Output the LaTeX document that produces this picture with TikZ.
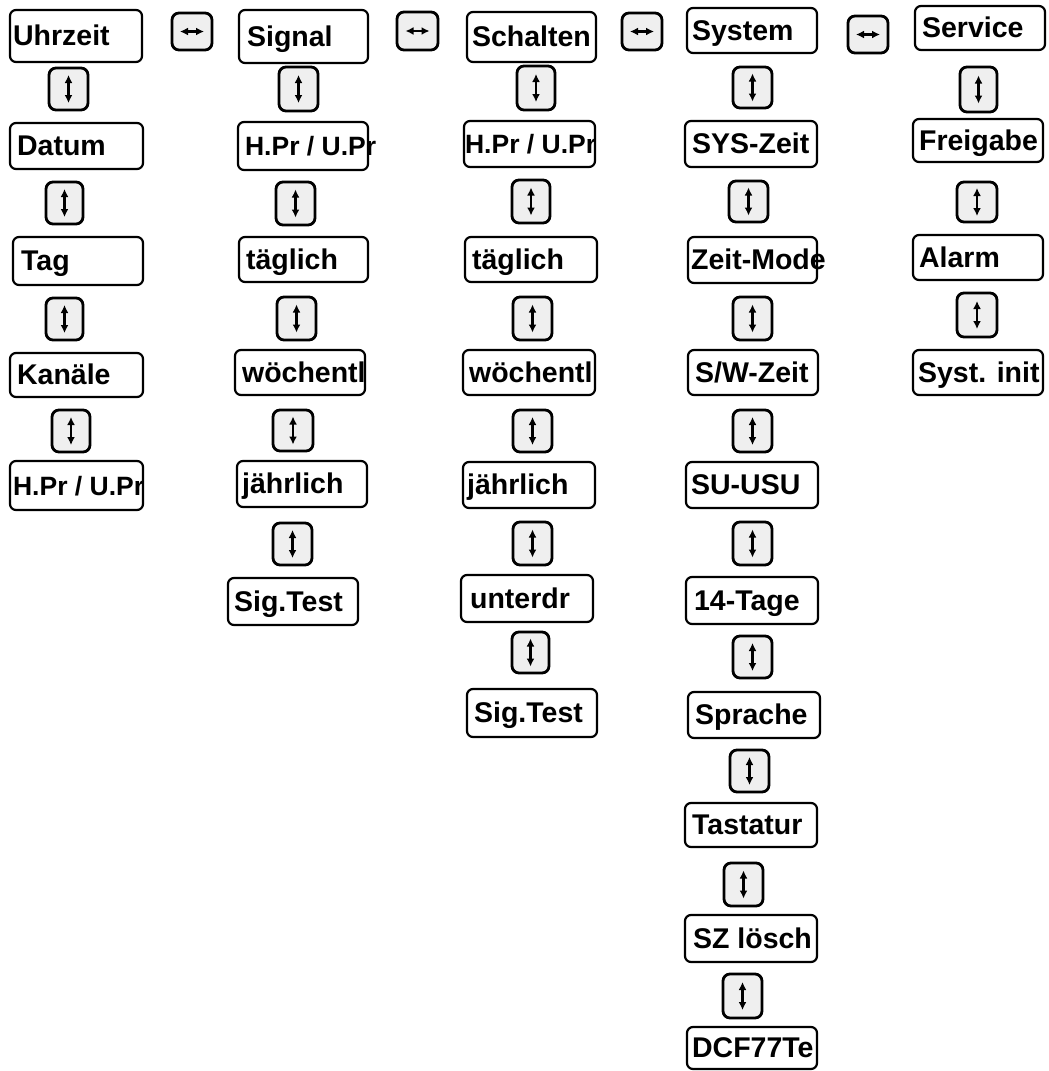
\documentclass[tikz,border=0pt]{standalone}
\usepackage{fontspec}
\setmainfont{Liberation Sans}
\usetikzlibrary{calc,arrows.meta}
\definecolor{keygray}{HTML}{EFEFEF}
\tikzset{
  boxst/.style={draw=black, line width=2.2pt, fill=white, rounded corners=6pt, inner sep=0pt},
  keyst/.style={draw=black, line width=2.8pt, fill=keygray, rounded corners=7pt, inner sep=0pt},
  lbl/.style={inner sep=0pt, anchor=base west, font=\fontsize{28.5}{30}\selectfont\bfseries},
  narrowlbl/.style={font=\fontsize{26.5}{30}\selectfont\bfseries},
  keyarrow/.style={line width=2.8pt, {Latex[length=8pt,width=8pt]}-{Latex[length=8pt,width=8pt]}},
}
% name x1 y1 x2 y2 inset text [extra label style]
\newcommand\mybox[8][]{%
  \node[boxst, minimum width={(#5-#3)*1pt}, minimum height={(#6-#4)*1pt}] (#2) at ({(#3+#5)/2},{(#4+#6)/2}) {};
  \node[lbl,#1] (#2t) at ($(#2.west)+(#7,9.5)$) {#8};
}
% name x1 y1 x2 y2
\newcommand\mykv[5]{%
  \node[keyst, minimum width={(#4-#2)*1pt}, minimum height={(#5-#3)*1pt}] (#1) at ({(#2+#4)/2},{(#3+#5)/2}) {};
  \draw[keyarrow] ($(#1.center)+(0,-14)$) -- ($(#1.center)+(0,14)$);
}
\newcommand\mykh[5]{%
  \node[keyst, minimum width={(#4-#2)*1pt}, minimum height={(#5-#3)*1pt}] (#1) at ({(#2+#4)/2},{(#3+#5)/2}) {};
  \draw[keyarrow] ($(#1.center)+(-12,0)$) -- ($(#1.center)+(12,0)$);
}
\begin{document}
\begin{tikzpicture}[x=1pt,y=-1pt]
\useasboundingbox (0,0) rectangle (1049,1071);
% top row horizontal keys
\mykh{h1}{172}{13}{212}{50}
\mykh{h2}{397}{12}{438}{50}
\mykh{h3}{622}{13}{662}{50}
\mykh{h4}{848}{16}{888}{53}
% column 1
\mybox{a0}{10}{10}{142}{62}{4}{Uhrzeit}
\mykv{ka1}{49}{68}{88}{110}
\mybox{a1}{10}{123}{143}{169}{8}{Datum}
\mykv{ka2}{46}{182}{83}{224}
\mybox{a2}{13}{237}{143}{285}{9}{Tag}
\mykv{ka3}{46}{298}{83}{340}
\mybox{a3}{10}{353}{143}{397}{8}{Kanäle}
\mykv{ka4}{52}{410}{90}{452}
\mybox[narrowlbl]{a4}{10}{461}{143}{510}{4}{H.Pr / U.Pr}
% column 2
\mybox{b0}{239}{10}{368}{63}{9}{Signal}
\mykv{kb1}{279}{67}{318}{111}
\mybox[narrowlbl]{b1}{238}{122}{368}{170}{8}{H.Pr / U.Pr}
\mykv{kb2}{276}{182}{315}{225}
\mybox{b2}{239}{237}{368}{282}{8}{täglich}
\mykv{kb3}{277}{297}{316}{340}
\mybox{b3}{235}{350}{365}{395}{8}{wöchentl}
\mykv{kb4}{273}{410}{313}{451}
\mybox{b4}{237}{461}{367}{507}{6}{jährlich}
\mykv{kb5}{273}{523}{312}{565}
\mybox{b5}{228}{578}{358}{625}{7}{Sig.Test}
% column 3
\mybox{c0}{467}{12}{596}{62}{6}{Schalten}
\mykv{kc1}{517}{66}{555}{110}
\mybox[narrowlbl]{c1}{464}{121}{595}{167}{2}{H.Pr / U.Pr}
\mykv{kc2}{512}{180}{550}{223}
\mybox{c2}{465}{237}{597}{282}{8}{täglich}
\mykv{kc3}{513}{297}{552}{340}
\mybox{c3}{463}{350}{595}{395}{7}{wöchentl}
\mykv{kc4}{513}{410}{552}{452}
\mybox{c4}{463}{462}{595}{508}{5}{jährlich}
\mykv{kc5}{513}{522}{552}{565}
\mybox{c5}{461}{575}{593}{622}{10}{unterdr}
\mykv{kc6}{512}{632}{549}{673}
\mybox{c6}{467}{689}{597}{737}{8}{Sig.Test}
% column 4
\mybox{d0}{687}{8}{817}{53}{6}{System}
\mykv{kd1}{733}{67}{772}{108}
\mybox{d1}{685}{121}{817}{167}{8}{SYS-Zeit}
\mykv{kd2}{729}{181}{768}{222}
\mybox{d2}{688}{237}{817}{283}{4}{Zeit-Mode}
\mykv{kd3}{733}{297}{772}{340}
\mybox{d3}{688}{350}{818}{395}{8}{S/W-Zeit}
\mykv{kd4}{733}{410}{772}{452}
\mybox{d4}{686}{462}{818}{508}{6}{SU-USU}
\mykv{kd5}{733}{522}{772}{565}
\mybox{d5}{686}{577}{818}{624}{9}{14-Tage}
\mykv{kd6}{733}{636}{772}{678}
\mybox{d6}{688}{692}{820}{738}{8}{Sprache}
\mykv{kd7}{730}{750}{769}{792}
\mybox{d7}{685}{803}{817}{847}{8}{Tastatur}
\mykv{kd8}{724}{863}{763}{906}
\mybox{d8}{685}{915}{817}{962}{9}{SZ lösch}
\mykv{kd9}{723}{974}{762}{1018}
\mybox{d9}{687}{1027}{817}{1069}{6}{DCF77Te}
% column 5
\mybox{e0}{915}{6}{1045}{50}{8}{Service}
\mykv{ke1}{960}{67}{997}{112}
\mybox{e1}{913}{119}{1043}{162}{7}{Freigabe}
\mykv{ke2}{957}{182}{997}{222}
\mybox{e2}{913}{235}{1043}{280}{7}{Alarm}
\mykv{ke3}{957}{293}{997}{337}
\mybox{e3}{913}{350}{1043}{395}{6}{Syst. init}
\end{tikzpicture}
\end{document}
